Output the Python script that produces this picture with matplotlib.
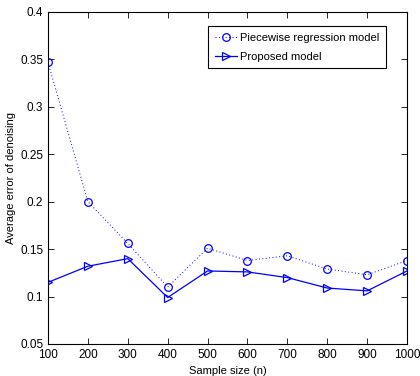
import matplotlib
matplotlib.use("Agg")
import matplotlib.pyplot as plt

plt.rcParams['font.family'] = ['Liberation Sans', 'DejaVu Sans']

sampleSizes = [100, 200, 300, 400, 500, 600, 700, 800, 900, 1000]
piecewiseError = [0.347, 0.200, 0.156, 0.110, 0.151, 0.138, 0.143, 0.129, 0.123, 0.138]
proposedError = [0.115, 0.132, 0.140, 0.099, 0.127, 0.126, 0.120, 0.109, 0.106, 0.127]
yTicks = [0.05, 0.1, 0.15, 0.2, 0.25, 0.3, 0.35, 0.4]
yTickLabels = ["0.05", "0.1", "0.15", "0.2", "0.25", "0.3", "0.35", "0.4"]

fig = plt.figure(figsize=(4.2, 3.76), dpi=100)
ax = fig.add_axes([48/420, 1 - 344/376, (407-48)/420, (344-12)/376])

ax.plot(sampleSizes, piecewiseError, color='blue', linestyle=(0, (1, 2.5)), linewidth=0.7,
        marker='o', markersize=5.5, markerfacecolor='none', markeredgewidth=0.9,
        label="Piecewise regression model")
ax.plot(sampleSizes, proposedError, color='blue', linestyle='-', linewidth=0.9,
        marker='>', markersize=5.5, markerfacecolor='none', markeredgewidth=0.9,
        label="Proposed model")

ax.set_xlim(100, 1000)
ax.set_ylim(0.05, 0.4)
ax.set_xticks(sampleSizes)
ax.set_yticks(yTicks)
ax.set_yticklabels(yTickLabels)
ax.tick_params(direction='in', top=True, right=True, labelsize=8.5, length=4, width=0.6)
for s in ax.spines.values():
    s.set_linewidth(0.8)

ax.set_xlabel("Sample size (n)", fontsize=8, labelpad=4)
ax.set_ylabel("Average error of denoising", fontsize=8, labelpad=3)

leg = ax.legend(loc='upper left', bbox_to_anchor=((208-48)/359, 1 - (26-12)/332), fontsize=8,
                fancybox=False, edgecolor='black', framealpha=1,
                handlelength=2.0, borderpad=0.6, labelspacing=0.8, handletextpad=0.3,
                borderaxespad=0)
leg.get_frame().set_linewidth(0.8)

plt.savefig("out.png", dpi=100)
